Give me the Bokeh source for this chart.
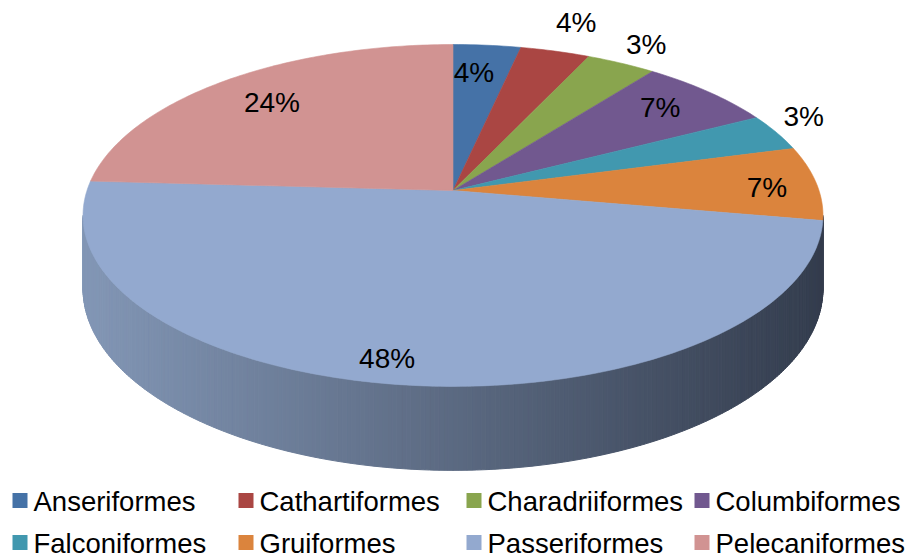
import numpy as np
from bokeh.plotting import figure
from bokeh.models import Range1d
from bokeh.core.properties import value
from bokeh.embed import file_html
from bokeh.resources import INLINE

# ---- data ----
categories = ["Anseriformes", "Cathartiformes", "Charadriiformes", "Columbiformes",
              "Falconiformes", "Gruiformes", "Passeriformes", "Pelecaniformes"]
shares = [3.4, 3.5, 3.5, 6.9, 3.5, 7.0, 48.1, 24.1]
pct_labels = ["4%", "4%", "3%", "7%", "3%", "7%", "48%", "24%"]
colors = ["#4572A7", "#AA4643", "#89A54E", "#71588F",
          "#4198AF", "#DB843D", "#93A9CF", "#D19392"]

# ---- geometry / style ----
W, H = 910, 560
CX, CY = 452.5, 190.0            # projected pie centre
SX, SY, K = 366.0, 167.3, 0.146  # perspective parameters
DEPTH = 71.7
label_r = [0.79, 1.24, 1.17, 0.81, 1.13, 0.86, 0.89, 0.78]
label_da = [-1.5, 0, 0, -1, -3.5, 1.5, 3.5, 0]   # small angular nudges (deg)
side_left = np.array([0x82, 0x96, 0xB5])
side_right = np.array([0x34, 0x3D, 0x4E])
leg_col_x = [12, 238, 466, 694]
leg_row_y = [500, 542]
FONT = "Liberation Sans"


def proj(a, r=1.0):
    X = r * np.sin(a)
    Y = r * np.cos(a)
    den = 1 + K * Y
    return CX + SX * X / den, CY - SY * Y / den


def side_bottom(a):
    x, y = proj(a)
    den = 1 + K * np.cos(a)
    return x, y + DEPTH / den


p = figure(width=W, height=H, x_range=Range1d(0, W), y_range=Range1d(H, 0),
           output_backend="svg", toolbar_location=None, min_border=0,
           x_axis_location=None, y_axis_location=None)
p.grid.visible = False
p.outline_line_color = None
p.background_fill_color = "white"
p.border_fill_color = "white"

# ---- side (cylinder wall) with horizontal gradient ----
a1 = np.pi / 2 + np.arcsin(K)
a2 = 3 * np.pi / 2 - np.arcsin(K)
n = 260
angs = np.linspace(a1, a2, n + 1)
xs_s, ys_s, cs_s = [], [], []
for i in range(n):
    aa, bb = angs[i], angs[i + 1]
    tx0, ty0 = proj(aa)
    tx1, ty1 = proj(bb)
    bx0, by0 = side_bottom(aa)
    bx1, by1 = side_bottom(bb)
    xm = (tx0 + tx1) / 2
    t = np.clip((xm - (CX - SX)) / (2 * SX), 0, 1)
    c = side_left * (1 - t) + side_right * t
    col = "#%02x%02x%02x" % tuple(int(round(v)) for v in c)
    xs_s.append([tx0, tx1, bx1, bx0])
    ys_s.append([ty0, ty1, by1, by0])
    cs_s.append(col)
p.patches(xs_s, ys_s, fill_color=cs_s, line_color=cs_s, line_width=1)

# ---- top face wedges ----
total = sum(shares)
cum = np.concatenate([[0], np.cumsum(shares)]) / total * 2 * np.pi
wx, wy = [], []
for i in range(len(shares)):
    m = max(4, int((cum[i + 1] - cum[i]) / (2 * np.pi) * 400))
    aa = np.linspace(cum[i], cum[i + 1], m)
    x, y = proj(aa)
    wx.append([CX] + list(x))
    wy.append([CY] + list(y))
p.patches(wx, wy, fill_color=colors, line_color=colors, line_width=0.6)

# ---- percentage labels ----
lx, ly = [], []
for i in range(len(shares)):
    mid = (cum[i] + cum[i + 1]) / 2 + np.radians(label_da[i])
    x, y = proj(mid, label_r[i])
    lx.append(x)
    ly.append(y)
p.text(x=lx, y=ly, text=pct_labels, text_font=value(FONT), text_font_size="28px",
       text_align="center", text_baseline="middle", text_color="black")

# ---- legend ----
sq_x, sq_y, tx, ty = [], [], [], []
for i, name in enumerate(categories):
    r, c = divmod(i, 4)
    sq_x.append(leg_col_x[c] + 7.5)
    sq_y.append(leg_row_y[r])
    tx.append(leg_col_x[c] + 21)
    ty.append(leg_row_y[r] + 1)
p.rect(x=sq_x, y=sq_y, width=15, height=15, fill_color=colors, line_color=None)
p.text(x=tx, y=ty, text=categories, text_font=value(FONT), text_font_size="27.5px",
       text_align="left", text_baseline="middle", text_color="black")

open("out.html", "w").write(file_html(p, INLINE))
